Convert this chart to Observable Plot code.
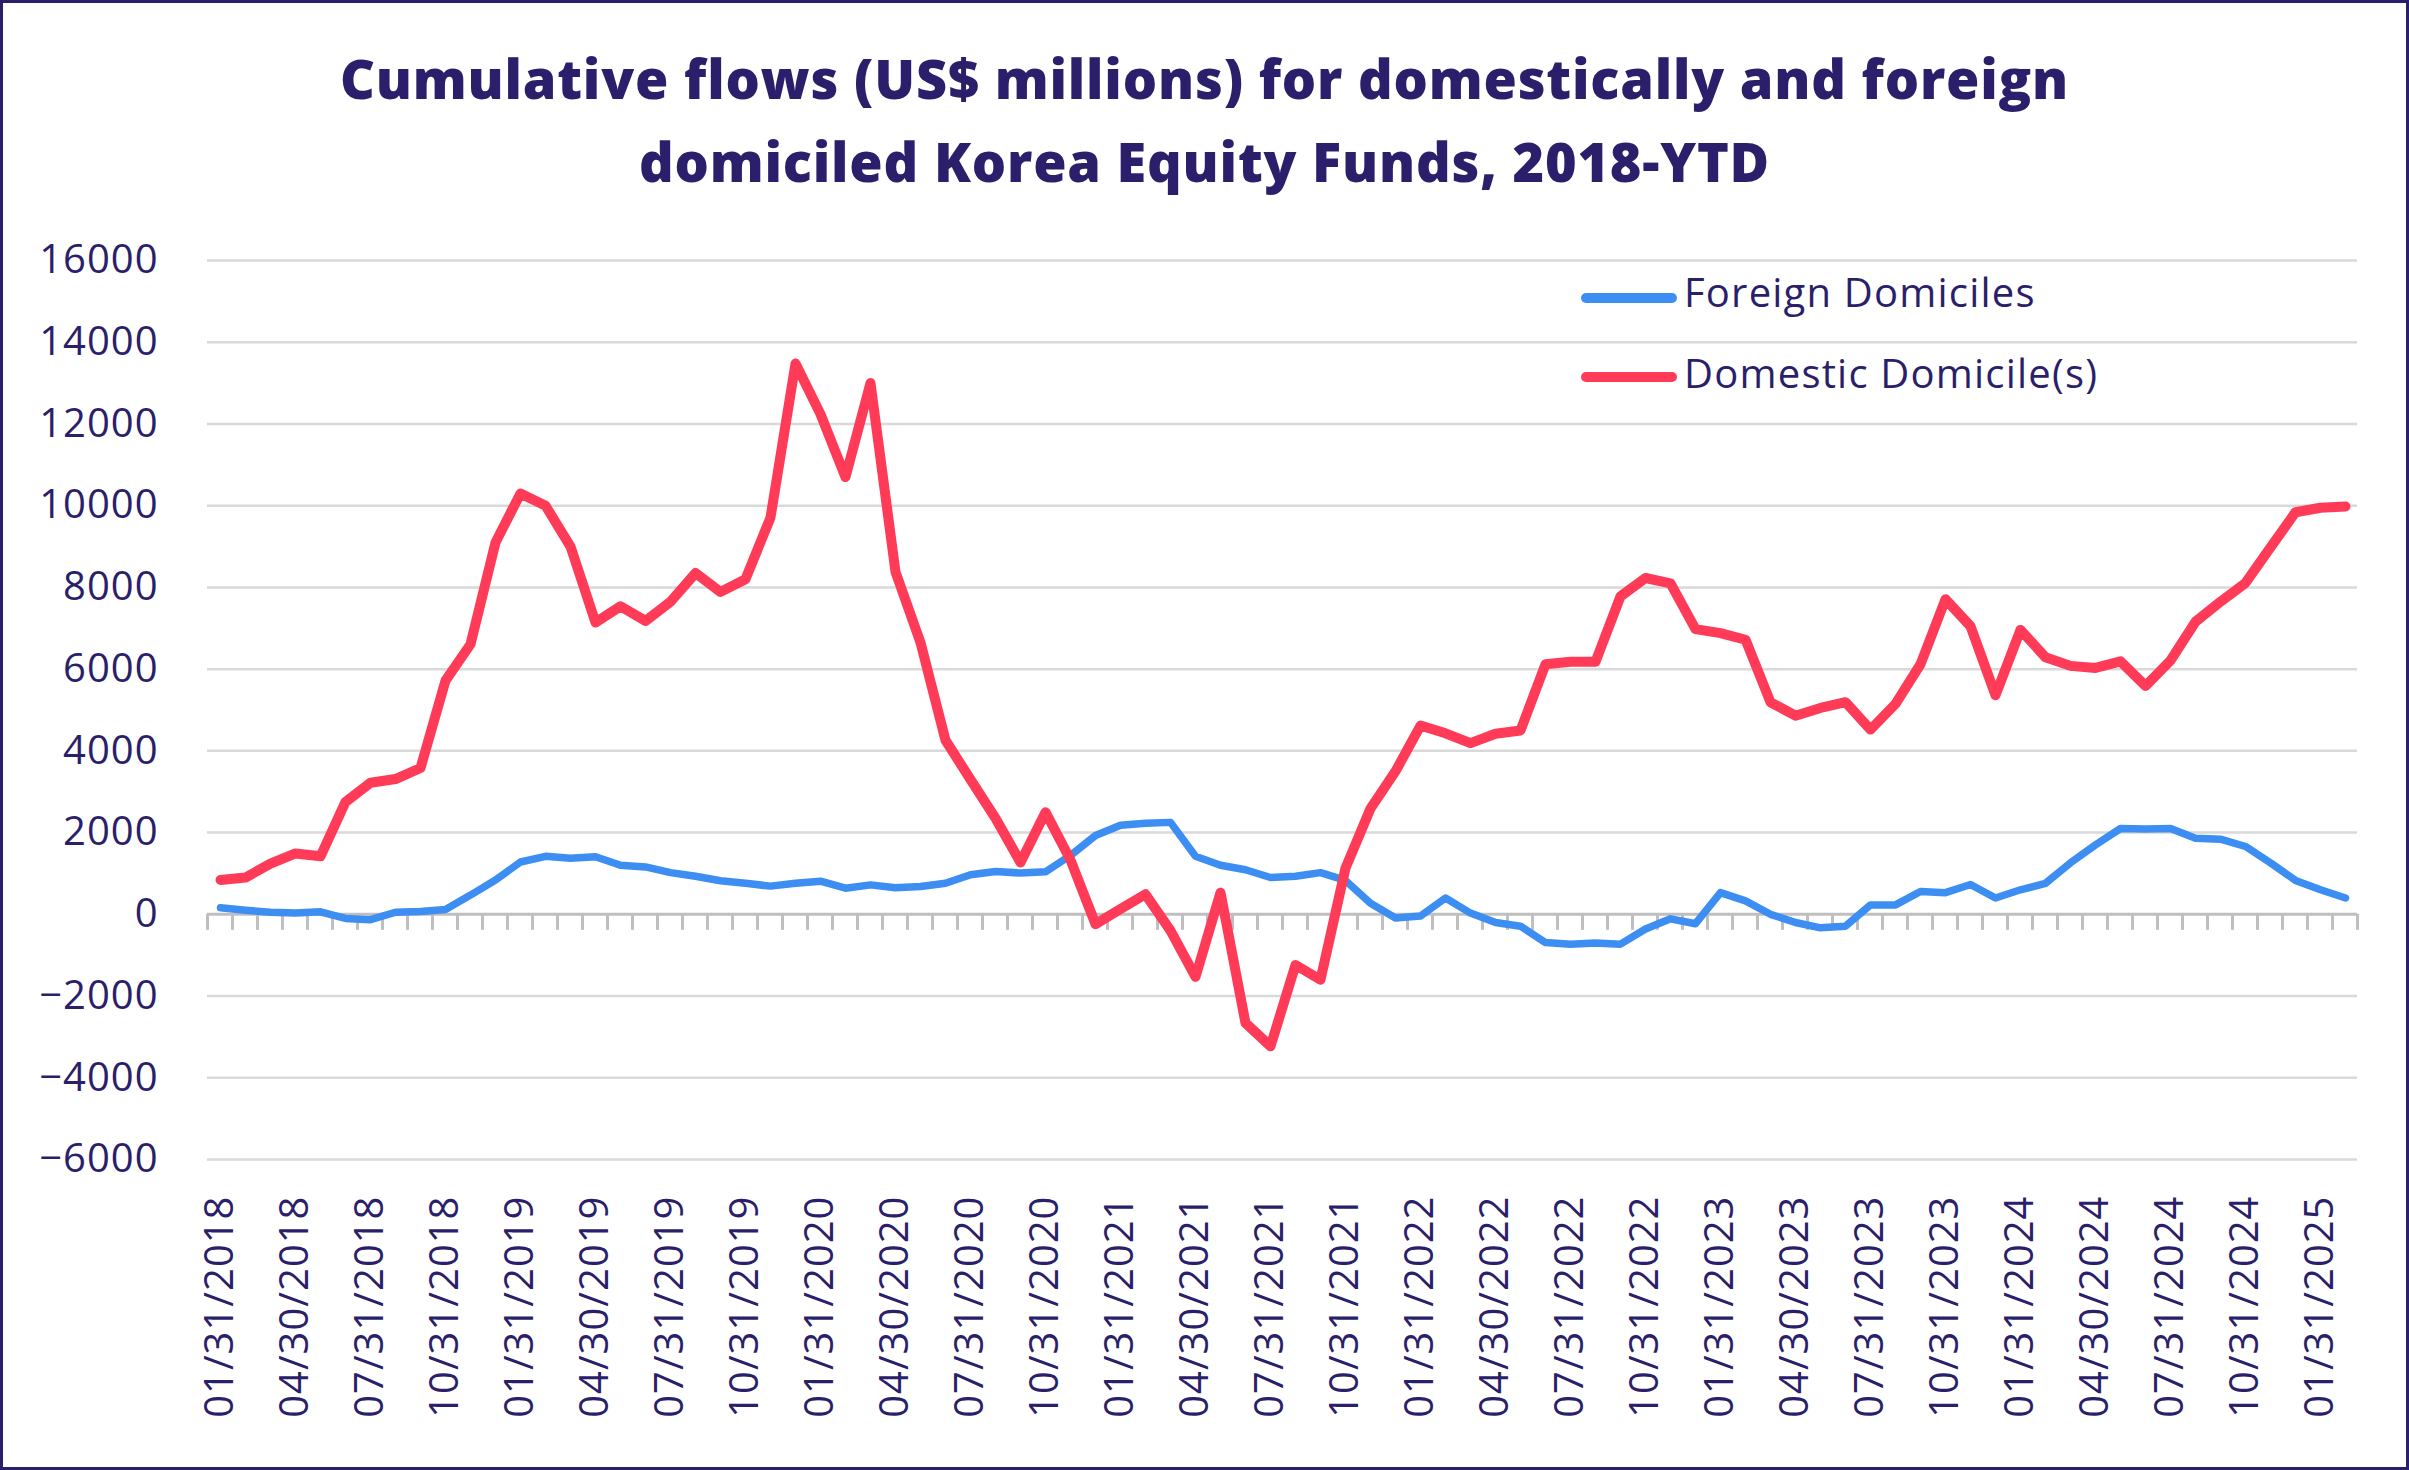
<!DOCTYPE html>
<html>
<head>
<meta charset="utf-8">
<script src="https://cdn.jsdelivr.net/npm/d3@7"></script>
<script src="https://cdn.jsdelivr.net/npm/@observablehq/plot@0.6"></script>
<style>
html, body { margin: 0; padding: 0; background: #fff; }
#frame { position: relative; width: 2409px; height: 1470px; box-sizing: border-box; border: 3px solid #2b1f6b; background: #fff; overflow: hidden; font-family: "Open Sans", sans-serif; color: #2b1f6b; }
#title { position: absolute; left: 0; right: 0; top: 34px; text-align: center; font-weight: 800; font-size: 54px; letter-spacing: 0.8px; line-height: 83px; }
#chart { position: absolute; left: 0; top: 217px; }
.leg-line { position: absolute; left: 1578px; width: 96px; height: 10px; border-radius: 5px; }
.leg-text { position: absolute; left: 1681px; font-size: 40px; line-height: 40px; letter-spacing: 1.2px; white-space: nowrap; }
</style>
</head>
<body>
<div id="frame">
  <div id="title">Cumulative flows (US$ millions) for domestically and foreign<br>domiciled Korea Equity Funds, 2018-YTD</div>
  <div id="chart"></div>
  <div class="leg-line" style="top:290px;background:#3d8ef2"></div>
  <div class="leg-text" style="top:269px">Foreign Domiciles</div>
  <div class="leg-line" style="top:369px;background:#ff3b58"></div>
  <div class="leg-text" style="top:350px">Domestic Domicile(s)</div>
</div>
<script>
const months = [
  "01/31/2018","02/28/2018","03/31/2018","04/30/2018","05/31/2018","06/30/2018","07/31/2018","08/31/2018","09/30/2018","10/31/2018","11/30/2018","12/31/2018",
  "01/31/2019","02/28/2019","03/31/2019","04/30/2019","05/31/2019","06/30/2019","07/31/2019","08/31/2019","09/30/2019","10/31/2019","11/30/2019","12/31/2019",
  "01/31/2020","02/29/2020","03/31/2020","04/30/2020","05/31/2020","06/30/2020","07/31/2020","08/31/2020","09/30/2020","10/31/2020","11/30/2020","12/31/2020",
  "01/31/2021","02/28/2021","03/31/2021","04/30/2021","05/31/2021","06/30/2021","07/31/2021","08/31/2021","09/30/2021","10/31/2021","11/30/2021","12/31/2021",
  "01/31/2022","02/28/2022","03/31/2022","04/30/2022","05/31/2022","06/30/2022","07/31/2022","08/31/2022","09/30/2022","10/31/2022","11/30/2022","12/31/2022",
  "01/31/2023","02/28/2023","03/31/2023","04/30/2023","05/31/2023","06/30/2023","07/31/2023","08/31/2023","09/30/2023","10/31/2023","11/30/2023","12/31/2023",
  "01/31/2024","02/29/2024","03/31/2024","04/30/2024","05/31/2024","06/30/2024","07/31/2024","08/31/2024","09/30/2024","10/31/2024","11/30/2024","12/31/2024",
  "01/31/2025","02/28/2025"
];

const foreign = [
  160, 100, 50, 30, 60, -100, -130, 50, 70, 120, 470, 840,
  1280, 1420, 1370, 1410, 1200, 1160, 1020, 930, 820, 760, 690, 760,
  810, 640, 720, 650, 680, 760, 970, 1050, 1010, 1040, 1440, 1930,
  2180, 2230, 2250, 1420, 1200, 1090, 900, 930, 1020, 830, 270, -90,
  -40, 400, 30, -200, -290, -690, -730, -700, -730, -360, -110, -230,
  530, 330, 0, -200, -330, -290, 230, 230, 560, 530, 730, 400,
  600, 760, 1260, 1700, 2100, 2090, 2100, 1860, 1840, 1660, 1260, 830,
  600, 400
];

const domestic = [
  840, 900, 1240, 1490, 1420, 2750, 3220, 3310, 3580, 5720, 6610, 9100,
  10300, 10000, 9000, 7140, 7540, 7180, 7650, 8350, 7890, 8200, 9710, 13480,
  12240, 10700, 13000, 8380, 6650, 4260, 3300, 2350, 1270, 2500, 1330, -240,
  130, 490, -400, -1530, 530, -2660, -3230, -1240, -1600, 1130, 2590, 3500,
  4620, 4430, 4190, 4420, 4500, 6120, 6180, 6180, 7780, 8230, 8100, 6980,
  6880, 6720, 5190, 4860, 5050, 5190, 4520, 5150, 6120, 7710, 7050, 5360,
  6960, 6290, 6080, 6030, 6190, 5590, 6210, 7160, 7650, 8110, 8980, 9840,
  9950, 9980
];

const yTicks = [-6000, -4000, -2000, 0, 2000, 4000, 6000, 8000, 10000, 12000, 14000, 16000];

const xTicks = [
  "01/31/2018","04/30/2018","07/31/2018","10/31/2018",
  "01/31/2019","04/30/2019","07/31/2019","10/31/2019",
  "01/31/2020","04/30/2020","07/31/2020","10/31/2020",
  "01/31/2021","04/30/2021","07/31/2021","10/31/2021",
  "01/31/2022","04/30/2022","07/31/2022","10/31/2022",
  "01/31/2023","04/30/2023","07/31/2023","10/31/2023",
  "01/31/2024","04/30/2024","07/31/2024","10/31/2024",
  "01/31/2025"
];

const foreignData = months.map((m, i) => ({month: m, value: foreign[i]}));
const domesticData = months.map((m, i) => ({month: m, value: domestic[i]}));

function zeroTicks(index, scales) {
  const x = scales.x, y = scales.y;
  const step = x(months[1]) - x(months[0]);
  const y0 = y(0);
  const g = d3.create("svg:g").attr("stroke", "#bfbfbf").attr("stroke-width", 3);
  const xs = months.map(m => x(m) - step / 2);
  xs.push(x(months[months.length - 1]) + step / 2);
  for (const xx of xs) {
    g.append("line").attr("x1", xx).attr("x2", xx).attr("y1", y0).attr("y2", y0 + 16);
  }
  return g.node();
}

const chart = Plot.plot({
  width: 2403,
  height: 1245,
  marginTop: 40,
  marginBottom: 306,
  marginLeft: 204,
  marginRight: 49,
  style: {fontFamily: "'Open Sans', sans-serif", fontSize: "40px", color: "#2b1f6b", background: "transparent", letterSpacing: "1px"},
  x: {type: "point", domain: months, padding: 0.5, ticks: xTicks, tickFormat: d => xTicks.includes(d) ? d : "", tickRotate: -90, tickSize: 0, tickPadding: 36, label: null},
  y: {domain: [-6000, 16000], ticks: yTicks, tickFormat: d => d < 0 ? "\u2212" + Math.abs(d) : String(d), tickSize: 0, tickPadding: 49, label: null},
  marks: [
    Plot.ruleY(yTicks.filter(d => d !== 0), {stroke: "#d9d9d9", strokeWidth: 2.5}),
    Plot.ruleY([0], {stroke: "#bfbfbf", strokeWidth: 3}),
    zeroTicks,
    Plot.lineY(foreignData, {x: "month", y: "value", stroke: "#3d8ef2", strokeWidth: 7.5, strokeLinejoin: "round", strokeLinecap: "round"}),
    Plot.lineY(domesticData, {x: "month", y: "value", stroke: "#ff3b58", strokeWidth: 10, strokeLinejoin: "round", strokeLinecap: "round"})
  ]
});
document.getElementById("chart").appendChild(chart);
</script>
</body>
</html>
